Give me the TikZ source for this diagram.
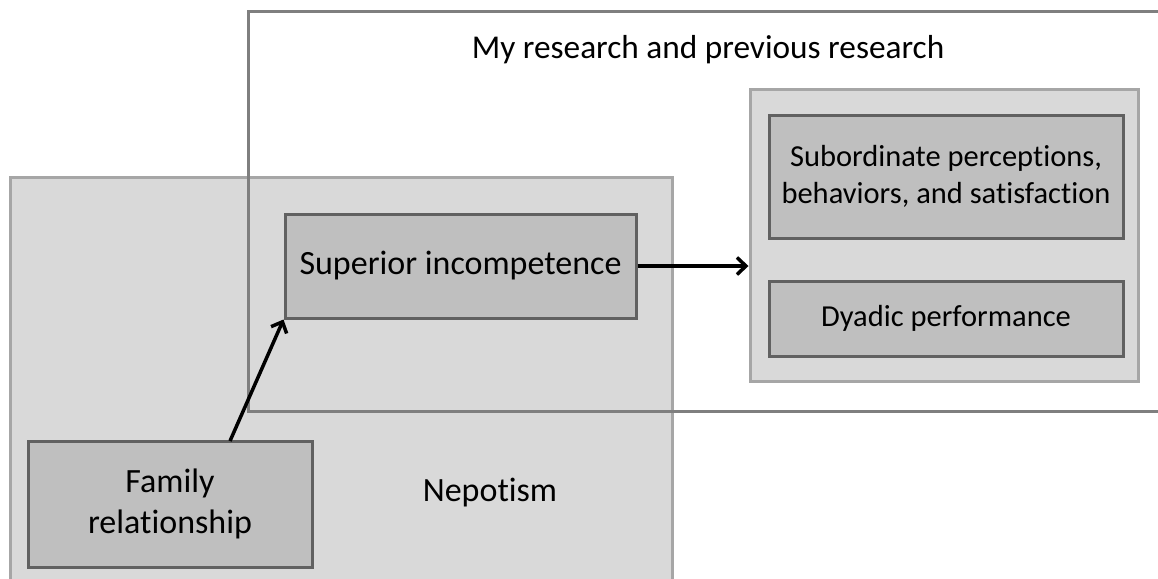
\documentclass[tikz,border=0pt]{standalone}
\usepackage{fontspec}
\setmainfont{Carlito}[Ligatures=NoCommon,RawFeature=-liga]
\usetikzlibrary{arrows.meta}
\definecolor{lightfill}{HTML}{D9D9D9}
\definecolor{lightedge}{HTML}{A6A6A6}
\definecolor{midfill}{HTML}{BFBFBF}
\definecolor{darkedge}{HTML}{616161}
\definecolor{frameedge}{HTML}{7F7F7F}
\begin{document}
\begin{tikzpicture}[x=1pt,y=-1pt,
  region/.style={draw=lightedge, fill=lightfill, line width=3pt},
  item/.style={draw=darkedge, fill=midfill, line width=3pt, inner sep=0pt, align=center},
  big/.style={font=\fontsize{34}{41}\selectfont},
  small/.style={font=\fontsize{30.5}{37}\selectfont},
  conn/.style={-{Straight Barb[length=9pt,width=17pt,line width=3.5pt]}, line width=3.5pt, black}]
\useasboundingbox (0,0) rectangle (1158,578);
\clip (0,0) rectangle (1158,578);
\fill[white] (0,0) rectangle (1158,578);
% Nepotism region
\draw[region] (10,600) -- (10,177) -- (672,177) -- (672,600);
\node[big] (nep) at (490,493) {Nepotism};
% research frame
\draw[draw=frameedge, line width=3pt] (1170,12) -- (248,12) -- (248,411) -- (1170,411);
\node[big, font=\fontsize{33.3}{40}\selectfont] (title) at (708,50) {My research and previous research};
% outcome region
\node[region, inner sep=0pt, minimum width=388pt, minimum height=292pt] (out) at (944,235) {};
\node[item, small, minimum width=354pt, minimum height=123pt] (sub) at (946,176.5) {Subordinate perceptions,\\behaviors, and satisfaction};
\node[item, small, minimum width=354pt, minimum height=75pt] (dya) at (946,318.5) {Dyadic performance};
% superior
\node[item, big, minimum width=351pt, minimum height=104pt] (sup) at (460.5,266) {Superior incompetence};
% family
\node[item, big, minimum width=284pt, minimum height=126pt] (fam) at (170,504) {Family\\relationship};
\coordinate (famtop) at (230,441);
\draw[conn] (famtop) -- (sup.south west);
\draw[conn] (sup.east) -- (sup.east -| out.west);
\end{tikzpicture}
\end{document}
